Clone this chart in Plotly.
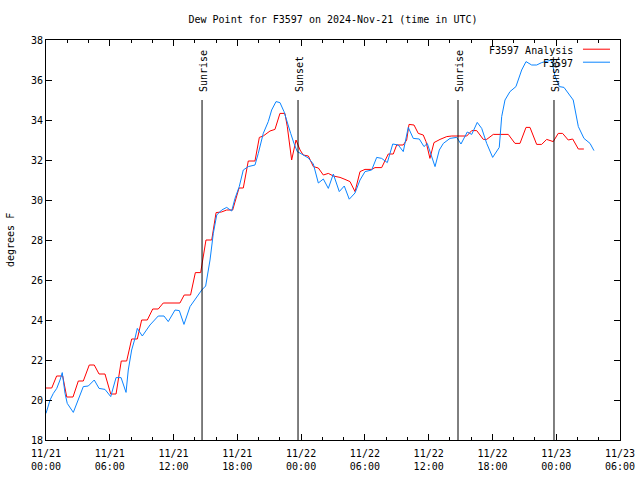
import pandas as pd
import plotly.graph_objects as go

start = pd.Timestamp("2024-11-21 00:00")

# Analysis series (hours after 11/21 00:00 UTC, deg F)
red_hours = [0.0, 0.54, 1.0, 1.57, 1.95, 2.54, 3.04, 3.51, 4.07, 4.54, 4.99, 5.55, 6.09, 6.59,
             7.08, 7.59, 8.06, 8.59, 9.0, 9.53, 10.04, 10.56, 11.03, 12.6, 13.0, 13.6, 14.05, 14.55,
             15.05, 15.59, 16.0, 16.5, 17.0, 17.56, 18.16, 18.56, 19.03, 19.66, 20.07, 20.44, 21.07,
             21.54, 22.01, 22.48, 22.7, 23.11, 23.52, 23.9, 24.2, 24.68, 25.15, 25.62, 26.09, 26.56,
             27.03, 27.66, 28.13, 28.6, 29.07, 29.54, 30.01, 30.64, 30.95, 31.58, 32.2, 32.67, 32.99,
             33.61, 33.93, 34.15, 34.62, 35.02, 35.49, 35.75, 36.12, 36.5, 37.07, 37.7, 38.17, 39.58,
             40.05, 40.52, 41.14, 41.46, 42.08, 43.49, 44.12, 44.59, 45.16, 45.53, 46.16, 46.63, 47.1,
             47.72, 48.19, 48.6, 49.13, 49.55, 50.08, 50.6]
red_dewpt = [20.6, 20.6, 21.2, 21.2, 20.15, 20.15, 20.95, 20.95, 21.75, 21.75, 21.3, 21.3, 20.3, 20.3,
             21.95, 21.95, 23.05, 23.05, 24.0, 24.0, 24.55, 24.55, 24.85, 24.85, 25.25, 25.25, 26.37, 26.37,
             28.0, 28.0, 29.37, 29.4, 29.5, 29.5, 30.6, 30.6, 31.95, 31.95, 33.13, 33.2, 33.45,
             33.53, 34.33, 34.33, 33.67, 32.0, 33.0, 32.5, 32.25, 32.2, 31.67, 31.6, 31.25, 31.33,
             31.2, 31.13, 31.03, 30.92, 30.42, 31.42, 31.53, 31.53, 31.62, 31.62, 32.3, 32.3, 32.75,
             32.75, 33.0, 33.78, 33.75, 33.33, 33.25, 32.92, 32.08, 32.87, 33.03, 33.17, 33.2, 33.2,
             33.47, 33.47, 33.03, 33.03, 33.28, 33.28, 32.83, 32.83, 33.63, 33.63, 32.78, 32.78, 33.03,
             32.92, 33.33, 33.33, 33.0, 33.05, 32.55, 32.55]

# Observed series
obs_hours = [0.0, 0.38, 0.69, 1.01, 1.32, 1.53, 1.79, 2.0, 2.57, 3.04, 3.51, 3.98, 4.54, 4.99, 5.55,
             6.09, 6.59, 7.06, 7.53, 7.74, 8.06, 8.37, 8.59, 9.06, 9.78, 10.56, 11.1, 11.5, 12.14,
             12.54, 12.98, 13.55, 14.02, 14.65, 15.02, 15.43, 15.74, 16.06, 16.53, 17.0, 17.47, 17.78,
             18.18, 18.56, 19.03, 19.66, 19.97, 20.44, 20.91, 21.23, 21.64, 22.01, 22.39, 22.7, 23.02,
             23.33, 23.64, 24.05, 24.68, 25.15, 25.62, 26.09, 26.56, 27.03, 27.59, 28.06, 28.53, 29.07,
             29.54, 30.01, 30.64, 31.11, 31.58, 32.11, 32.62, 33.14, 33.61, 34.08, 34.55, 35.12, 35.56,
             35.87, 36.19, 36.6, 37.0, 37.38, 38.01, 38.64, 39.04, 39.63, 40.05, 40.57, 40.99, 41.46,
             42.02, 42.64, 42.87, 43.18, 43.65, 44.21, 44.75, 45.16, 45.69, 46.16, 46.63, 47.57, 47.88,
             48.29, 48.73, 49.13, 49.6, 50.08, 50.61, 51.18, 51.55]
obs_dewpt = [19.33, 20.0, 20.33, 20.58, 21.0, 21.37, 20.33, 19.83, 19.38, 20.0, 20.67, 20.7, 21.0, 20.58, 20.53,
             20.17, 21.12, 21.12, 20.38, 21.5, 22.5, 23.08, 23.58, 23.2, 23.75, 24.2, 24.2, 23.92, 24.5,
             24.47, 23.78, 24.67, 25.03, 25.5, 25.7, 27.0, 28.33, 29.25, 29.5, 29.63, 29.45, 30.08,
             30.67, 31.5, 31.67, 31.75, 32.33, 33.33, 33.92, 34.5, 34.92, 34.87, 34.42, 33.83, 33.33,
             32.83, 32.42, 32.3, 32.1, 31.8, 30.85, 31.05, 30.58, 31.3, 30.42, 30.7, 30.04, 30.35,
             31.0, 31.42, 31.5, 32.13, 32.08, 31.87, 32.8, 32.75, 32.42, 33.63, 33.08, 33.05, 32.67,
             32.83, 32.3, 31.67, 32.5, 32.83, 33.08, 33.13, 32.8, 33.4, 33.28, 33.88, 33.58, 32.83,
             32.13, 32.63, 34.17, 35.0, 35.42, 35.67, 36.5, 36.92, 36.75, 36.75, 36.87, 37.0, 36.2,
             35.67, 35.63, 35.33, 35.0, 33.67, 33.08, 32.83, 32.47]

# Sun events (hours after start)
sun_labels = ["Sunrise", "Sunset", "Sunrise", "Sunset"]
sun_hours = [14.68, 23.71, 38.76, 47.79]

series_names = ["F3597 Analysis", "F3597"]
series_colors = ["#ff0000", "#0a84ff"]

def to_time(hours):
    return [start + pd.Timedelta(hours=h) for h in hours]

FONT = "DejaVu Sans Mono"
fig = go.Figure()
fig.add_trace(go.Scatter(x=to_time(red_hours), y=red_dewpt, mode="lines",
                         line=dict(color=series_colors[0], width=1), name=series_names[0]))
fig.add_trace(go.Scatter(x=to_time(obs_hours), y=obs_dewpt, mode="lines",
                         line=dict(color=series_colors[1], width=1), name=series_names[1]))

for lab, h in zip(sun_labels, sun_hours):
    t = start + pd.Timedelta(hours=h)
    fig.add_shape(type="line", x0=t, x1=t, y0=18, y1=35.0, xref="x", yref="y",
                  line=dict(color="black", width=1))
    fig.add_annotation(x=t, y=35.3, xref="x", yref="y", text=lab, textangle=-90,
                       showarrow=False, xanchor="center", yanchor="bottom", xshift=1,
                       font=dict(family=FONT, size=10, color="black"))

# legend (gnuplot style: text then sample)
leg_y = [0.975, 0.9425]
for name, col, yy in zip(series_names, series_colors, leg_y):
    fig.add_annotation(x=0.9216, y=yy, xref="paper", yref="paper", text=name, showarrow=False,
                       xanchor="right", yanchor="middle", font=dict(family=FONT, size=10, color="black"))
    fig.add_shape(type="line", x0=0.9355, x1=0.9826, y0=yy + 0.002, y1=yy + 0.002,
                  xref="paper", yref="paper", line=dict(color=col, width=1))

fig.add_annotation(x=0, y=0.5, xref="paper", yref="paper", text="degrees F", textangle=-90,
                   showarrow=False, xanchor="center", yanchor="middle", xshift=-36,
                   font=dict(family=FONT, size=10, color="black"))

fig.update_layout(
    width=640, height=480,
    margin=dict(l=46, r=20, t=40, b=40, autoexpand=False),
    paper_bgcolor="white", plot_bgcolor="white",
    showlegend=False,
    title=dict(text="Dew Point for F3597 on 2024-Nov-21 (time in UTC)", x=(46 + 287) / 640,
               xanchor="center", y=1 - 19 / 480, yanchor="middle",
               font=dict(family=FONT, size=10, color="black")),
    font=dict(family=FONT, size=10, color="black"),
)
fig.update_xaxes(
    range=[start, start + pd.Timedelta(hours=54)], automargin=False,
    tick0=start, dtick=6 * 3600 * 1000, tickformat="%m/%d<br>%H:%M",
    ticks="inside", ticklen=6, tickcolor="black", mirror="ticks",
    showline=True, linecolor="black", linewidth=1, showgrid=False, zeroline=False,
    minor=dict(dtick=2 * 3600 * 1000, ticks="inside", ticklen=3, tickcolor="black", showgrid=False),
    tickfont=dict(family=FONT, size=10), ticklabelstandoff=4,
)
fig.update_yaxes(
    range=[18, 38], dtick=2, tick0=18, automargin=False,
    ticks="inside", ticklen=6, tickcolor="black", mirror="ticks",
    showline=True, linecolor="black", linewidth=1, showgrid=False, zeroline=False,
    tickfont=dict(family=FONT, size=10),
)

fig.write_html("out.html", config={"displayModeBar": False},
               post_script="document.body.style.margin='0';document.body.style.padding='0';")
